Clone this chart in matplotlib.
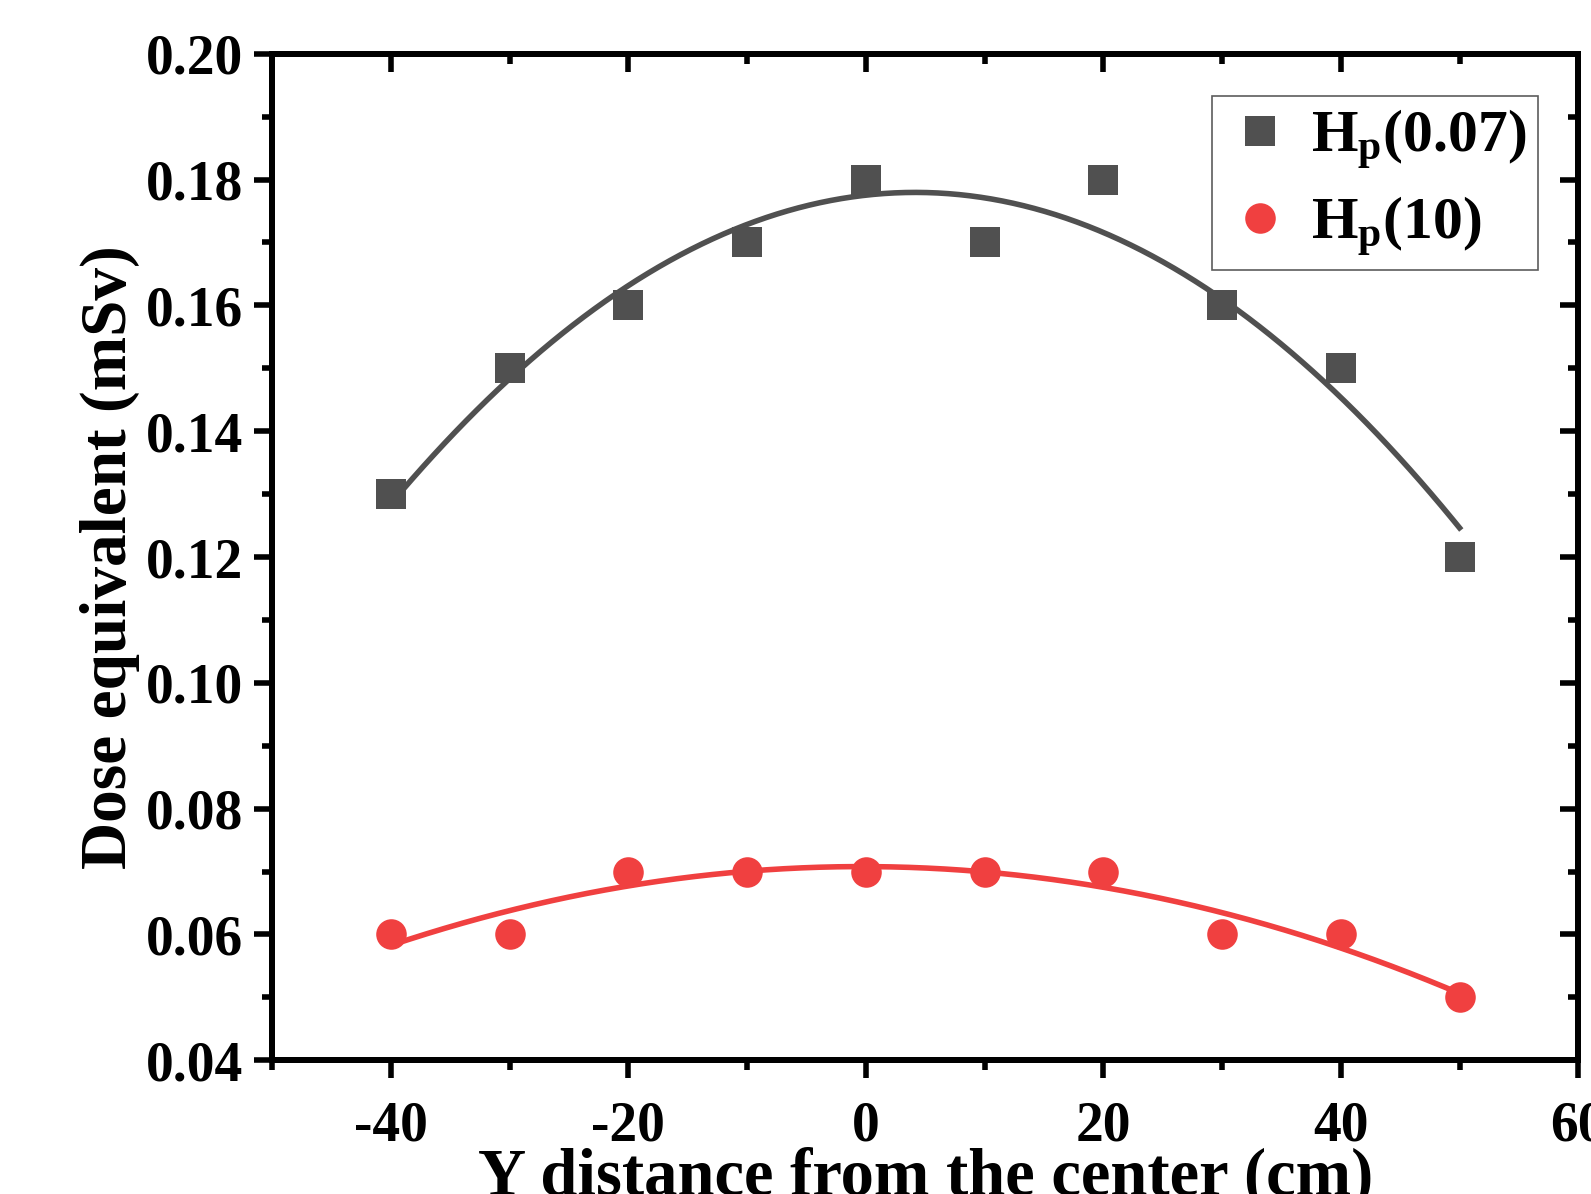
import numpy as np
import matplotlib
matplotlib.use("Agg")
import matplotlib.pyplot as plt
from matplotlib.ticker import MultipleLocator, FormatStrFormatter

plt.rcParams['font.family'] = 'Liberation Serif'
plt.rcParams['font.weight'] = 'bold'
plt.rcParams['axes.unicode_minus'] = False
plt.rcParams['mathtext.fontset'] = 'custom'
plt.rcParams['mathtext.rm'] = 'Liberation Serif:bold'
plt.rcParams['mathtext.it'] = 'Liberation Serif:bold'
plt.rcParams['mathtext.bf'] = 'Liberation Serif:bold'

# data
y_dist = [-40, -30, -20, -10, 0, 10, 20, 30, 40, 50]
hp007 = [0.13, 0.15, 0.16, 0.17, 0.18, 0.17, 0.18, 0.16, 0.15, 0.12]
hp10 = [0.06, 0.06, 0.07, 0.07, 0.07, 0.07, 0.07, 0.06, 0.06, 0.05]

gray = '#505050'
red = '#f04040'

fig = plt.figure(figsize=(15.91, 11.94), dpi=100)
ax = fig.add_axes([0.171, 0.112, 0.821, 0.843])

# quadratic fits
xs = np.linspace(min(y_dist), max(y_dist), 300)
p1 = np.polyfit(y_dist, hp007, 2)
p2 = np.polyfit(y_dist, hp10, 2)
ax.plot(xs, np.polyval(p1, xs), color=gray, lw=4, zorder=2)
ax.plot(xs, np.polyval(p2, xs), color=red, lw=4, zorder=2)

ax.plot(y_dist, hp007, 's', color=gray, ms=21, mew=0, label=r'H$_{\rm p}$(0.07)', zorder=3)
ax.plot(y_dist, hp10, 'o', color=red, ms=22, mew=0, label=r'H$_{\rm p}$(10)', zorder=3)

ax.set_xlim(-50, 60)
ax.set_ylim(0.04, 0.20)
ax.xaxis.set_major_locator(MultipleLocator(20))
ax.xaxis.set_minor_locator(MultipleLocator(10))
ax.yaxis.set_major_locator(MultipleLocator(0.02))
ax.yaxis.set_minor_locator(MultipleLocator(0.01))
ax.yaxis.set_major_formatter(FormatStrFormatter('%.2f'))

for s in ax.spines.values():
    s.set_linewidth(4.3)
ax.tick_params(which='major', direction='out', length=13, width=4, labelsize=40, pad=8)
ax.tick_params(which='minor', direction='out', length=7, width=4)
ax.tick_params(axis='x', which='major', pad=16)

# inward ticks on top and right
axt = ax.twiny()
axr = ax.twinx()
axt.set_xlim(ax.get_xlim())
axr.set_ylim(ax.get_ylim())
axt.xaxis.set_major_locator(MultipleLocator(20))
axt.xaxis.set_minor_locator(MultipleLocator(10))
axr.yaxis.set_major_locator(MultipleLocator(0.02))
axr.yaxis.set_minor_locator(MultipleLocator(0.01))
for a in (axt, axr):
    a.tick_params(which='major', direction='in', length=13, width=4, labelsize=0)
    a.tick_params(which='minor', direction='in', length=7, width=4)
    a.set_xticklabels([]) if a is axt else a.set_yticklabels([])
    for s in a.spines.values():
        s.set_linewidth(4.3)

ax.set_xlabel('Y distance from the center (cm)', fontsize=48, fontweight='bold', labelpad=-4)
ax.set_ylabel('Dose equivalent (mSv)', fontsize=47, fontweight='bold', labelpad=4)

leg = ax.legend(loc='upper right', bbox_to_anchor=(0.969, 0.958), borderaxespad=0,
                fontsize=43, fancybox=False, edgecolor='#333333', handletextpad=0.25,
                handlelength=1.2, borderpad=0.2, labelspacing=0.4)
leg.get_frame().set_linewidth(1.2)

fig.savefig('out.png', dpi=100)
